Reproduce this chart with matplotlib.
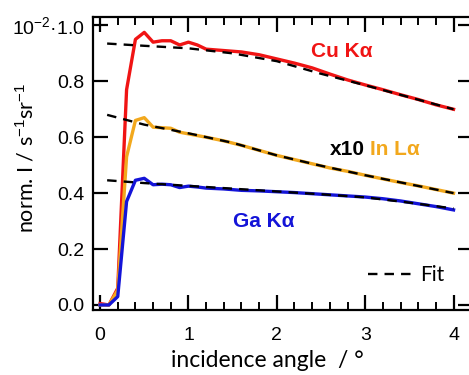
import numpy as np
import matplotlib.pyplot as plt
from matplotlib.ticker import MultipleLocator

# data (normalised intensity, 1e-2 / s^-1 sr^-1)
angle = [0.0, 0.1, 0.2, 0.3, 0.4, 0.5, 0.6, 0.7, 0.8, 0.9, 1.0, 1.1,
         1.2, 1.4, 1.6, 1.8, 2.0, 2.2, 2.4, 2.6, 2.8, 3.0, 3.2, 3.4,
         3.6, 3.8, 4.0]
cu_ka = [0.005, 0.0, 0.06, 0.77, 0.95, 0.975, 0.94, 0.945, 0.945, 0.93,
         0.94, 0.93, 0.915, 0.91, 0.905, 0.895, 0.88, 0.865, 0.848, 0.826,
         0.805, 0.787, 0.77, 0.752, 0.735, 0.716, 0.70]
in_la = [0.0, 0.0, 0.053, 0.53, 0.66, 0.67, 0.636, 0.634, 0.632, 0.618,
         0.612, 0.606, 0.60, 0.587, 0.571, 0.553, 0.535, 0.52, 0.505, 0.49,
         0.478, 0.464, 0.451, 0.438, 0.426, 0.413, 0.40]
ga_ka = [0.0, 0.0, 0.03, 0.37, 0.446, 0.453, 0.43, 0.432, 0.43, 0.42,
         0.425, 0.422, 0.418, 0.415, 0.41, 0.408, 0.405, 0.402, 0.398, 0.394,
         0.39, 0.386, 0.38, 0.372, 0.362, 0.352, 0.34]

fit_angle = [0.08, 0.5, 1.0, 1.5, 2.0, 2.5, 3.0, 3.5, 4.0]
cu_fit = [0.935, 0.927, 0.918, 0.90, 0.872, 0.827, 0.786, 0.743, 0.70]
in_fit = [0.68, 0.645, 0.614, 0.58, 0.535, 0.498, 0.464, 0.432, 0.40]
ga_fit = [0.446, 0.436, 0.426, 0.416, 0.406, 0.396, 0.385, 0.366, 0.345]

yticks = [0.0, 0.2, 0.4, 0.6, 0.8, 1.0]
ytick_labels = ["0.0", "0.2", "0.4", "0.6", "0.8", "10$^{-2}$·1.0"]

RED = "#f01414"
ORANGE = "#f2a81d"
BLUE = "#1414d8"

plt.rcParams["font.family"] = ["Liberation Sans", "DejaVu Sans"]
plt.rcParams["mathtext.fontset"] = "custom"
plt.rcParams["mathtext.rm"] = "Liberation Sans"

fig = plt.figure(figsize=(4.69, 3.75), dpi=100)
ax = fig.add_axes([93 / 469, 65 / 375, 380 / 469, 293 / 375])

ax.plot(angle, cu_ka, color=RED, lw=2.4, solid_joinstyle="round")
ax.plot(angle, in_la, color=ORANGE, lw=2.4, solid_joinstyle="round")
ax.plot(angle, ga_ka, color=BLUE, lw=2.4, solid_joinstyle="round")
for f in (cu_fit, in_fit, ga_fit):
    ax.plot(fit_angle, f, color="black", lw=1.7, dashes=(4, 3))
ax.plot([], [], color="black", lw=1.7, dashes=(4, 3), label="Fit")

ax.set_xlim(-0.08, 4.22)
ax.set_ylim(-0.018, 1.03)
ax.xaxis.set_major_locator(MultipleLocator(1))
ax.xaxis.set_minor_locator(MultipleLocator(0.2))
ax.set_yticks(yticks)
ax.set_yticklabels(ytick_labels)
ax.tick_params(which="major", direction="in", length=11, width=1.6,
               top=True, right=True, labelsize=14)
ax.tick_params(axis="x", which="major", pad=12)
ax.tick_params(axis="y", which="major", pad=6)
ax.tick_params(which="minor", direction="in", length=6, width=1.4, top=True)
ax.tick_params(axis="y", which="minor", left=False, right=False)
for s in ax.spines.values():
    s.set_linewidth(1.6)

ax.set_xlabel("incidence angle  / °", fontsize=16.5, family="Lato")
ax.set_ylabel("norm. I / s$^{-1}$sr$^{-1}$", fontsize=15.5, family="Lato")
ax.xaxis.set_label_coords(0.458, -0.135)
ax.yaxis.set_label_coords(-0.145, 0.52)

ax.text(2.73, 0.905, "Cu Kα", color=RED, fontsize=15, fontweight="bold", ha="center", va="center")
ax.text(2.6, 0.555, "x10", color="black", fontsize=15, fontweight="bold", ha="left", va="center")
ax.text(3.05, 0.555, "In Lα", color=ORANGE, fontsize=15, fontweight="bold", ha="left", va="center")
ax.text(1.85, 0.3, "Ga Kα", color=BLUE, fontsize=15, fontweight="bold", ha="center", va="center")

ax.legend(loc="center left", bbox_to_anchor=(0.675, 0.12), frameon=False,
          prop={"family": "Lato", "size": 15},
          handlelength=2.2, handletextpad=0.3)

fig.savefig("out.png", dpi=100)
